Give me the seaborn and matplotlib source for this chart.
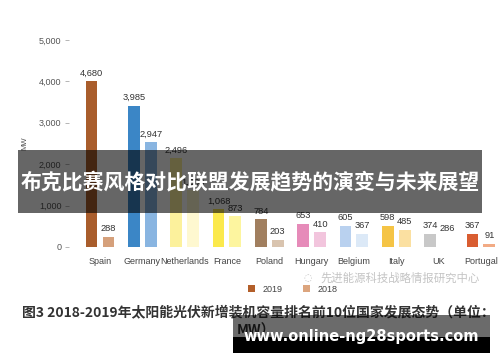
import matplotlib
matplotlib.use("Agg")
import matplotlib.pyplot as plt
from matplotlib.patches import Rectangle, Patch
import seaborn as sns
import pandas as pd

countries = ['Spain', 'Germany', 'Netherlands', 'France', 'Poland',
             'Hungary', 'Belgium', 'Italy', 'UK', 'Portugal']
v2019 = [4680, 3985, 2496, 1068, 784, 653, 605, 598, 374, 367]
v2018 = [288, 2947, 1600, 873, 203, 410, 367, 485, 286, 91]
years = ['2019', '2018']
ytick_labels = ['0', '1,000', '2,000', '3,000', '4,000', '5,000']

colors2019 = ['#a95d2c', '#3b86c6', '#fcf19c', '#fbe94c', '#a17f5f',
              '#e68bb9', '#b9d1ef', '#f5c445', '#c8c8c8', '#d95d31']
colors2018 = ['#d5a07b', '#89b5e1', '#fef8d0', '#fdf59f', '#d9c4af',
              '#f2c5dd', '#dce9f7', '#fbe0a1', '#ffffff', '#f2ab85']

df = pd.DataFrame({
    'country': countries * 2,
    'value': v2019 + v2018,
    'year': ['2019'] * len(countries) + ['2018'] * len(countries),
})

sns.set_theme(style='white')
plt.rcParams['font.family'] = ['Liberation Sans', 'Noto Sans CJK SC', 'DejaVu Sans']

fig = plt.figure(figsize=(5, 3.62), dpi=100)
ax = fig.add_axes([78.8 / 500, 1 - 247 / 362, 423.3 / 500, 213 / 362])

sns.barplot(data=df, x='country', y='value', hue='year', hue_order=years,
            order=countries, width=0.8, gap=0.3, legend=False, ax=ax,
            palette=['#a95d2c', '#d5a07b'], saturation=1, errorbar=None)

for cont, cols in zip(ax.containers, [colors2019, colors2018]):
    for bar, c in zip(cont, cols):
        bar.set_facecolor(c)
        bar.set_edgecolor('none')
    ax.bar_label(cont, fmt='{:,.0f}', padding=2.5, fontsize=6.7, color='#333333')

# axis styling (the source's tick scale)
scale = 7 / 6
ax.set_ylim(0, 6000)
ax.set_xlim(-0.5, 9.5)
ax.set_yticks([i * 1000 * scale for i in range(len(ytick_labels))])
ax.set_yticklabels(ytick_labels)
for s in ['top', 'right', 'bottom']:
    ax.spines[s].set_visible(False)
ax.spines['left'].set_position(('outward', 7))
ax.spines['left'].set_visible(False)
ax.tick_params(axis='y', length=3, width=0.6, color='#aaaaaa', pad=2.5,
               labelsize=6.5, labelcolor='#555555', left=True)
ax.tick_params(axis='x', length=0, pad=7, labelsize=6.5, labelcolor='#444444')
ax.set_xlabel('')
ax.set_ylabel('')
fig.text(25 / 500, 1 - 143 / 362, 'MW', rotation=90, fontsize=5.5,
         color='#555555', ha='center', va='center')

# legend
handles = [Patch(facecolor='#b35f2a', edgecolor='none', label='2019'),
           Patch(facecolor='#dca57e', edgecolor='none', label='2018')]
fig.legend(handles=handles, loc='center left',
           bbox_to_anchor=(248 / 500, 1 - 289 / 362), ncol=2, frameon=False,
           fontsize=6.5, labelcolor='#444444', handlelength=0.75,
           handleheight=0.75, handletextpad=0.9, columnspacing=2.2,
           borderaxespad=0, borderpad=0)

# watermark of source
fig.text(320 / 500, 1 - 278 / 362, '先进能源科技战略情报研究中心', fontsize=8.2,
         color='#c4c4c4', ha='left', va='center', family=['Noto Sans CJK SC'])
fig.text(308 / 500, 1 - 278 / 362, '◌', fontsize=7, color='#c4c4c4',
         ha='center', va='center', family=['DejaVu Sans'])

# caption
fig.text(22 / 500, 1 - 312 / 362,
         '图3 2018-2019年太阳能光伏新增装机容量排名前10位国家发展态势（单位：',
         fontsize=10, fontweight='bold', color='#333333', ha='left', va='center',
         family=['Noto Sans CJK SC'])
fig.text(237 / 500, 1 - 331 / 362, 'MW）', fontsize=10, fontweight='bold',
         color='#333333', ha='left', va='center', family=['Noto Sans CJK SC'])

# overlay banner
fig.add_artist(Rectangle((18 / 500, 1 - 213 / 362), 464 / 500, 63 / 362,
                         transform=fig.transFigure, facecolor='black',
                         alpha=0.6, edgecolor='none', zorder=10))
fig.text(250 / 500, 1 - 183 / 362, '布克比赛风格对比联盟发展趋势的演变与未来展望',
         fontsize=15, fontweight='bold', color='white', ha='center',
         va='center', zorder=11, family=['Noto Sans CJK SC'])

# bottom-right site box
fig.add_artist(Rectangle((233 / 500, 1 - 337 / 362), 257 / 500, 22 / 362,
                         transform=fig.transFigure, facecolor='black',
                         alpha=0.58, edgecolor='none', zorder=10))
fig.add_artist(Rectangle((233 / 500, 1 - 353 / 362), 257 / 500, 16 / 362,
                         transform=fig.transFigure, facecolor='black',
                         edgecolor='none', zorder=10))
fig.text(361 / 500, 1 - 337 / 362, 'www.online-ng28sports.com', fontsize=10.5,
         fontweight='bold', color='white', ha='center', va='center', zorder=11,
         family=['DejaVu Sans'])

fig.savefig('out.png', dpi=100)
